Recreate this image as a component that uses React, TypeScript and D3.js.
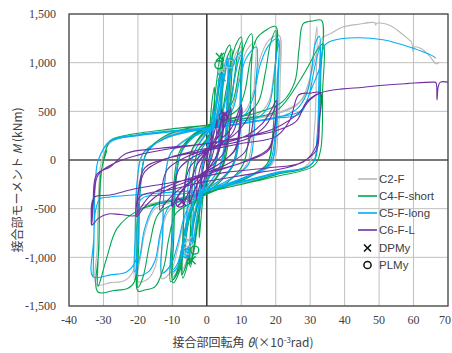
import React from 'react';
import * as d3 from 'd3';

type P = [number, number];

const xTickValues = [-40, -30, -20, -10, 0, 10, 20, 30, 40, 50, 60, 70];
const yTickValues = [-1500, -1000, -500, 0, 500, 1000, 1500];
const seriesNames = ['C2-F', 'C4-F-short', 'C5-F-long', 'C6-F-L'];
const seriesColors = ['#b8b8b8', '#00a650', '#00b0f0', '#7030a0'];
const markerNames = ['DPMy', 'PLMy'];

// C2-F (theta x10^-3 rad, moment kNm)
const c2F: P[] = [
  [0,0],[0.8,250],[1.5,450],[2,550],
  [1.8,250],[1,0],[0,-120],[-1,-300],[-1.7,-480],[-2.1,-560],
  [-1.9,-250],[-1,20],[0,120],[1,260],[2,450],[3,700],[3.8,880],[4.3,950],
  [4.1,500],[3.4,100],[2,-80],[0,-200],[-1.5,-350],[-3,-600],[-4,-850],[-4.7,-1000],
  [-4.5,-550],[-3.8,-100],[-2.5,100],[0,210],[1.5,300],[3,500],[4.3,800],[5.3,1000],[6.5,1100],
  [6.3,650],[5.6,180],[4.3,-60],[2,-210],[0,-290],[-2,-380],[-3.5,-580],[-5,-880],[-6,-1070],[-7,-1150],
  [-6.8,-650],[-6.2,-180],[-4.5,80],[-2,210],[0,290],[2,350],[3.8,520],[5,800],[6.2,1020],[7,1080],
  [6.8,650],[6.1,180],[4.6,-60],[2,-210],[0,-290],[-2,-370],[-3.8,-580],[-5,-860],[-6.2,-1060],[-7.2,-1130],
  [-6.8,-650],[-6.2,-180],[-4.5,80],[-2,220],[0,300],[2,360],[4,440],[5.5,650],[7,920],[8.5,1100],[10,1160],
  [9.8,750],[9.2,220],[7.5,-50],[4,-210],[0,-320],[-3,-400],[-5,-580],[-6.5,-860],[-8,-1100],[-10,-1200],
  [-9.8,-750],[-9.2,-220],[-7.5,70],[-4,230],[0,320],[4,390],[6.5,540],[8,830],[9.2,1050],[10.2,1140],
  [10,750],[9.4,220],[7.7,-50],[4,-210],[0,-320],[-3,-400],[-5.5,-600],[-7,-880],[-8.6,-1100],[-10.2,-1180],
  [-9.8,-750],[-9.2,-220],[-7.5,70],[-4,240],[0,330],[4,400],[7.5,560],[9.5,880],[11.5,1120],[14,1212],
  [13.8,800],[13.2,240],[11.5,-50],[6,-220],[0,-340],[-4,-430],[-6.5,-620],[-8.5,-920],[-10.5,-1150],[-13,-1220],
  [-12.8,-800],[-12.2,-230],[-10.5,70],[-5,240],[0,330],[6,410],[11,500],[13.5,700],[15.5,1050],[18,1230],[21,1280],
  [20.8,850],[20.2,280],[18.5,-40],[12,-180],[5,-280],[0,-340],[-6,-430],[-11,-520],[-13.5,-800],[-15,-1100],[-17,-1220],[-20,-1250],
  [-19.8,-850],[-19.3,-280],[-17.5,70],[-12,240],[-5,320],[0,350],[8,410],[15,470],[18,600],[19.5,900],[20.5,1150],[21.5,1240],
  [21.3,850],[20.7,280],[19,-40],[10,-200],[0,-330],[-8,-420],[-15,-500],[-18,-750],[-19.5,-1050],[-21,-1230],
  [-20.8,-850],[-20.3,-280],[-18.5,70],[-12,230],[-5,310],[0,340],[10,400],[20,470],[26,560],[29,700],[30.5,950],[31.5,1250],[32,1370],
  [31.8,900],[31.2,300],[29.5,-40],[20,-150],[10,-240],[0,-320],[-8,-390],[-15,-440],[-20,-500],[-20.5,-850],[-21.5,-1150],[-24,-1240],[-28,-1260],[-32,-1280],
  [-31.8,-900],[-31.3,-250],[-30.5,0],[-28,180],[-23,240],[-10,300],[0,340],[10,400],[20,480],[27,600],[30,850],[32,1120],[33.6,1256],
  [36,1300],[39.5,1366],[44,1395],[48.8,1410],[49,1385],[49.3,1405],[53,1385],[56,1315],[58.9,1228],[59.4,1215],[59.9,1110],[60.3,1160],[62.3,1143],[64.5,1075],[66.6,988],[67.4,1000],
];

// C4-F-short
const c4FShort: P[] = [
  [0,0],[0.8,300],[1.5,600],[2.2,750],
  [2,350],[1.2,50],[0,-120],[-1,-350],[-1.8,-650],[-2.2,-800],
  [-2,-400],[-1.2,-50],[0,120],[1,300],[2,550],[3,850],[3.8,1050],[4.3,1100],
  [4.1,600],[3.4,150],[2,-80],[0,-220],[-1.5,-400],[-2.8,-700],[-3.8,-950],[-4.8,-1100],
  [-4.6,-600],[-4,-150],[-2.5,100],[0,200],[1.5,320],[2.8,600],[3.8,900],[4.6,1060],
  [4.4,600],[3.7,150],[2.2,-80],[0,-230],[-1.5,-400],[-3,-700],[-4.2,-980],[-5,-1080],
  [-4.6,-600],[-4,-150],[-2.5,100],[0,220],[1.5,330],[3,600],[4.2,900],[5.3,1100],[6.7,1180],
  [6.5,700],[5.8,200],[4.5,-60],[2,-220],[0,-300],[-2,-400],[-3.5,-600],[-4.8,-900],[-5.8,-1100],[-7,-1215],
  [-6.8,-700],[-6.2,-200],[-4.5,90],[-2,230],[0,300],[2,360],[3.8,550],[5,850],[6.2,1080],[7.2,1140],
  [7,700],[6.3,200],[4.8,-60],[2,-230],[0,-300],[-2,-390],[-3.8,-600],[-5,-900],[-6.2,-1100],[-7.3,-1180],
  [-6.8,-700],[-6.2,-200],[-4.5,90],[-2,240],[0,320],[2,380],[4,450],[5.5,700],[7,1000],[8.5,1190],[10,1263],
  [9.8,800],[9.2,250],[7.5,-50],[4,-220],[0,-330],[-3,-420],[-5,-600],[-6.5,-900],[-8,-1150],[-9.8,-1263],
  [-9.6,-800],[-9,-250],[-7.5,80],[-4,240],[0,330],[4,410],[6.5,550],[8,850],[9,1100],[10.2,1220],
  [10,800],[9.4,250],[7.7,-50],[4,-220],[0,-330],[-3,-420],[-5.5,-620],[-7,-930],[-8.5,-1160],[-10,-1230],
  [-9.6,-800],[-9,-250],[-7.5,80],[-4,250],[0,340],[4,420],[7.5,600],[9.5,950],[11,1180],[13,1297],
  [12.8,850],[12.2,250],[10.5,-50],[6,-230],[0,-350],[-4,-450],[-6,-650],[-7.5,-950],[-9,-1180],[-10.5,-1250],
  [-10.2,-800],[-9.6,-250],[-8,80],[-4,260],[0,350],[5,430],[9,520],[11,700],[12.5,1000],[14.5,1250],[17,1330],[20,1370],
  [19.8,900],[19.2,300],[17.5,-40],[12,-180],[5,-280],[0,-350],[-5,-450],[-9,-550],[-11,-800],[-12.5,-1100],[-15,-1300],[-18,-1335],[-20,-1346],
  [-19.8,-900],[-19.3,-300],[-17.5,80],[-12,250],[-5,330],[0,360],[6,420],[12,480],[15,600],[17,900],[18.5,1200],[20,1330],
  [19.8,900],[19.2,300],[17.5,-40],[10,-200],[0,-340],[-8,-430],[-14,-550],[-16.5,-850],[-18.5,-1200],[-20,-1310],
  [-19.8,-900],[-19.3,-300],[-17.5,80],[-12,250],[-5,330],[0,360],[8,430],[16,500],[22,600],[25.5,800],[26.8,1150],[28,1400],[31,1430],[33.3,1434],
  [33.1,900],[32.5,300],[30.5,-40],[20,-150],[10,-250],[0,-330],[-8,-400],[-15,-450],[-19.5,-520],[-20.3,-900],[-21,-1250],[-23,-1320],[-27,-1340],[-31.6,-1356],
  [-31.3,-900],[-30.8,-200],[-30,0],[-28,200],[-23,257],[-10,320],[0,360],[10,420],[20,500],[27,817],[30,1000],[32,1130],[33.8,1194],
  [33.6,700],[33,100],[31,-60],[20,-170],[0,-330],[-10,-420],[-20,-520],[-26,-700],[-29,-1000],[-31,-1250],[-31.6,-1300],
  [-31.3,-800],[-30.8,-150],[-29,100],
];

// C5-F-long
const c5FLong: P[] = [
  [0,0],[0.7,200],[1.4,400],[2,500],
  [1.8,220],[1,0],[0,-130],[-1,-280],[-1.6,-420],[-2,-500],
  [-1.8,-220],[-1,10],[0,130],[1,260],[2,430],[3,680],[3.6,820],[4,900],
  [3.8,450],[3.1,90],[1.8,-80],[0,-200],[-1.5,-330],[-2.8,-580],[-3.5,-750],[-4,-850],
  [-3.8,-420],[-3.1,-80],[-1.8,90],[0,190],[1.5,290],[2.8,560],[3.6,800],[4.2,880],
  [4,450],[3.3,90],[2,-80],[0,-210],[-1.5,-340],[-2.8,-600],[-3.6,-780],[-4.2,-860],
  [-3.8,-420],[-3.1,-80],[-1.8,90],[0,200],[1.5,290],[3,480],[4.2,780],[5.1,960],[6,1050],
  [5.8,600],[5.1,160],[3.8,-60],[1.5,-200],[0,-270],[-2,-360],[-3.5,-560],[-4.6,-820],[-5.3,-950],[-6,-1000],
  [-5.8,-600],[-5.2,-170],[-3.8,70],[-1.5,200],[0,270],[2,330],[3.6,520],[4.8,820],[5.8,980],[6.3,1030],
  [6.1,600],[5.4,160],[4,-60],[1.5,-200],[0,-270],[-2,-350],[-3.6,-560],[-4.8,-830],[-5.6,-960],[-6.3,-1010],
  [-5.8,-600],[-5.2,-170],[-3.8,70],[-1.5,210],[0,280],[2,340],[4,420],[5.5,620],[7,880],[8.5,1050],[10,1109],
  [9.8,700],[9.2,200],[7.5,-50],[4,-200],[0,-300],[-3,-380],[-5,-560],[-6.5,-830],[-8,-1070],[-10,-1150],
  [-9.8,-700],[-9.2,-200],[-7.5,70],[-4,230],[0,300],[4,370],[6.5,520],[8,820],[9.2,1020],[10.2,1090],
  [10,700],[9.4,200],[7.7,-50],[4,-200],[0,-300],[-3,-380],[-5.5,-580],[-7,-860],[-8.6,-1070],[-10.2,-1130],
  [-9.8,-700],[-9.2,-200],[-7.5,70],[-4,230],[0,310],[4,380],[7.5,520],[9.5,820],[11.5,1050],[14.4,1160],
  [14.2,750],[13.6,220],[12,-50],[6,-210],[0,-320],[-4,-400],[-6.5,-580],[-8.5,-870],[-10.5,-1080],[-13,-1160],
  [-12.8,-750],[-12.2,-220],[-10.5,70],[-5,230],[0,310],[6,380],[11,460],[13.5,650],[15.5,980],[18,1180],[20.6,1246],
  [20.4,800],[19.8,250],[18,-40],[12,-170],[5,-260],[0,-320],[-6,-400],[-11,-480],[-13.5,-750],[-15,-1030],[-17,-1150],[-20,-1184],
  [-19.8,-800],[-19.3,-250],[-17.5,70],[-12,230],[-5,300],[0,330],[8,390],[15,440],[18,560],[19.5,850],[20.3,1100],[20.9,1200],
  [20.7,800],[20.1,250],[18.5,-40],[10,-190],[0,-310],[-8,-400],[-15,-470],[-18,-700],[-19.5,-1000],[-21,-1150],
  [-20.8,-800],[-20.3,-250],[-18.5,70],[-12,220],[-5,290],[0,320],[10,380],[20,430],[26,520],[29,680],[30.5,950],[31.5,1200],[32.7,1270],
  [32.5,800],[32,250],[30.5,-40],[20,-130],[10,-220],[0,-300],[-10,-330],[-21.5,-360],[-28,-380],[-31,-400],[-32.3,-520],[-32.8,-900],[-33,-1201],
  [-32.8,-800],[-32.3,-200],[-31.5,0],[-28,200],[-20,260],[-10,300],[0,330],[10,380],[20,440],[27,500],[29.5,650],[31,900],[32.3,1100],[33,1170],
  [32.8,750],[32.2,200],[30.5,-40],[20,-140],[10,-230],[0,-310],[-10,-360],[-19,-400],[-20.2,-700],[-20.6,-1030],[-23.3,-1150],[-28,-1180],[-33,-1200],
  [-32.8,-800],[-32.3,-200],[-31.5,0],[-28,190],[-20,250],[-10,290],[0,320],[10,370],[20,430],[27,474],[30,700],[32.8,954],[34.2,1177],
  [36.6,1228],[43.4,1256],[51.1,1235],[58.8,1160],[66.1,1057],[66.4,1047],
];

// C6-F-L
const c6FL: P[] = [
  [0,0],[0.8,150],[1.5,300],
  [1.2,120],[0,-80],[-0.8,-200],[-1.5,-300],
  [-1.2,-120],[0,60],[1.5,200],[2.5,330],[3,420],
  [2.6,200],[1.5,30],[0,-100],[-1.5,-200],[-2.5,-320],[-3,-400],
  [-2.6,-200],[-1.5,-30],[0,80],[1.5,160],[3,270],[4,380],[4.7,480],
  [4.3,250],[3,60],[1,-60],[-1,-150],[-3,-260],[-4.3,-380],[-5,-450],
  [-4.6,-250],[-3,-60],[-1,40],[1,120],[3,230],[4.2,380],[5,470],
  [4.6,250],[3.2,60],[1,-60],[-1,-150],[-3,-270],[-4.4,-390],[-5.2,-440],
  [-4.6,-250],[-3,-60],[-1,50],[1,130],[3,220],[5,330],[6.2,450],[7,530],
  [6.6,300],[5,80],[2,-40],[-1,-130],[-3.5,-230],[-5.5,-350],[-6.8,-463],
  [-6.4,-260],[-5,-80],[-2,40],[1,120],[4,210],[7,320],[8.8,460],[10,570],
  [9.5,330],[8,100],[4,-30],[0,-110],[-4,-200],[-7,-300],[-9,-400],[-10,-480],
  [-9.5,-280],[-8,-90],[-4,30],[0,90],[4,160],[7.5,280],[9,420],[10.2,540],
  [9.7,320],[8.2,100],[4,-30],[0,-120],[-4,-210],[-7,-310],[-9,-410],[-10.2,-470],
  [-9.5,-280],[-8,-90],[-4,30],[0,100],[4,170],[8,260],[11,380],[12.5,480],[13.5,530],
  [13,300],[11,80],[6,-40],[0,-130],[-5,-230],[-9,-330],[-12,-440],[-13.6,-515],
  [-13.1,-300],[-11.5,-100],[-6,30],[0,110],[6,180],[12,260],[16,370],[18.5,500],[20.2,610],
  [19.7,350],[18,120],[12,0],[4,-100],[-4,-200],[-10,-280],[-15,-380],[-18.5,-500],[-20.4,-583],
  [-19.9,-350],[-18,-120],[-12,10],[-4,90],[4,150],[12,220],[17,350],[19,470],[20.2,560],
  [19.7,320],[18,100],[10,-30],[0,-130],[-10,-250],[-16,-350],[-19,-480],[-20.4,-560],
  [-19.9,-320],[-18,-80],[-10,30],[0,100],[10,170],[20,240],[24,400],[26.7,670],[30,687],[33,690],
  [32.6,400],[31.8,150],[28,-20],[18,-80],[5,-130],[-5,-200],[-15,-260],[-21.4,-300],[-28,-360],[-32.5,-378],[-33.4,-450],[-33.4,-669],
  [-32.8,-400],[-31.5,-150],[-26,-20],[-20,50],[-10,120],[0,170],[10,230],[20,300],[26,400],[29,600],[33,680],
  [32.6,400],[31.8,100],[26,-50],[15,-130],[0,-220],[-10,-300],[-19.5,-380],[-20.4,-566],[-25,-560],[-28.6,-555],[-31.5,-600],[-33.4,-669],
  [-33,-420],[-32,-150],[-28,-69],[-23.3,69],[-13.6,120],[0,170],[10,230],[20,330],[27,491],[30,620],[33,690],
  [39.4,731],[45,745],[50,765],[58,785],[65.8,800],[66.5,795],[66.8,618],[67.2,760],[67.8,800],[70,800],
];

const seriesData: P[][] = [c2F, c4FShort, c5FLong, c6FL];

// markers: [series index, theta, moment]
const dpmyPoints: [number, number, number][] = [
  [0, 4.3, 919], [0, -5.4, -824],
  [1, 3.8, 1057], [1, -4.4, -1030],
  [2, 4.3, 850], [2, -6.3, -930],
  [3, 5.2, 470], [3, -7.2, -430],
];
const plmyPoints: [number, number, number][] = [
  [0, 6.5, 988], [0, -5.4, -926],
  [1, 3.5, 978], [1, -3.5, -926],
  [2, 6.8, 1000], [2, -6.1, -961],
  [3, 4.7, 446], [3, -7.8, -443],
];

const W = 452;
const H = 353;
const PL = 69, PR = 448, PT = 14, PB = 306;

function Cross({ cx, cy, s, color, w }: { cx: number; cy: number; s: number; color: string; w: number }) {
  return (
    <path
      d={`M${cx - s},${cy - s}L${cx + s},${cy + s}M${cx - s},${cy + s}L${cx + s},${cy - s}`}
      stroke={color}
      strokeWidth={w}
      fill="none"
    />
  );
}

export default function App() {
  const x = d3.scaleLinear().domain([-40, 70]).range([PL, PR]);
  const y = d3.scaleLinear().domain([-1500, 1500]).range([PB, PT]);
  const line = d3
    .line<P>()
    .x((d) => x(d[0]))
    .y((d) => y(d[1]))
    .curve(d3.curveCatmullRom.alpha(0.5));

  const fmt = d3.format(',');
  const legendRows = [179, 196, 213, 230, 248, 265];
  const legendX1 = 358, legendX2 = 377, legendTX = 379;

  return (
    <svg
      width={W}
      height={H}
      style={{ position: 'absolute', left: 0, top: 0, background: '#fff' }}
    >
      <rect x={0} y={0} width={W} height={H} fill="#fff" />
      {/* grid */}
      {xTickValues.map((t) => (
        <line key={'gx' + t} x1={x(t)} x2={x(t)} y1={PT} y2={PB} stroke="#c0c0c0" strokeWidth={1} />
      ))}
      {yTickValues.map((t) => (
        <line key={'gy' + t} x1={PL} x2={PR} y1={y(t)} y2={y(t)} stroke="#c0c0c0" strokeWidth={1} />
      ))}
      {/* zero axes */}
      <line x1={x(0)} x2={x(0)} y1={PT} y2={PB} stroke="#111" strokeWidth={1.2} />
      <line x1={PL} x2={PR} y1={y(0)} y2={y(0)} stroke="#111" strokeWidth={1.2} />
      {/* border */}
      <rect x={PL} y={PT} width={PR - PL} height={PB - PT} fill="none" stroke="#404040" strokeWidth={1.2} />

      {/* series */}
      {seriesData.map((data, i) => (
        <path
          key={'s' + i}
          d={line(data) || ''}
          fill="none"
          stroke={seriesColors[i]}
          strokeWidth={1.1}
          strokeLinejoin="round"
        />
      ))}

      {/* markers */}
      {dpmyPoints.map(([s, t, m], i) => (
        <Cross key={'dp' + i} cx={x(t)} cy={y(m)} s={4} color={seriesColors[s]} w={1.4} />
      ))}
      {plmyPoints.map(([s, t, m], i) => (
        <circle key={'pl' + i} cx={x(t)} cy={y(m)} r={4} fill="none" stroke={seriesColors[s]} strokeWidth={1.4} />
      ))}

      {/* tick labels */}
      {yTickValues.map((t) => (
        <text
          key={'yl' + t}
          x={56}
          y={y(t)}
          dy="0.35em"
          textAnchor="end"
          fontFamily="'Liberation Serif', 'DejaVu Serif', serif"
          fontSize={12}
          fill="#404040"
        >
          {fmt(t).replace('−', '-')}
        </text>
      ))}
      {xTickValues.map((t) => (
        <text
          key={'xl' + t}
          x={Math.min(x(t), 445)}
          y={324}
          textAnchor="middle"
          fontFamily="'Liberation Serif', 'DejaVu Serif', serif"
          fontSize={12}
          fill="#404040"
        >
          {String(t)}
        </text>
      ))}

      {/* axis titles */}
      <text
        x={243}
        y={347}
        textAnchor="middle"
        fontFamily="'Noto Sans CJK JP', 'Noto Sans', sans-serif"
        fontSize={12}
        fill="#404040"
      >
        接合部回転角 <tspan fontStyle="italic">θ</tspan>
        <tspan>(×10</tspan>
        <tspan dy={-4} fontSize={8}>-3</tspan>
        <tspan dy={4}>rad)</tspan>
      </text>
      <text
        transform={`translate(18,${180}) rotate(-90)`}
        textAnchor="middle"
        dy="0.35em"
        fontFamily="'Noto Sans CJK JP', 'Noto Sans', sans-serif"
        fontSize={12}
        fill="#404040"
      >
        接合部モーメント <tspan fontStyle="italic">M</tspan> (kNm)
      </text>

      {/* legend */}
      {seriesNames.map((n, i) => (
        <g key={'lg' + i}>
          <line x1={legendX1} x2={legendX2} y1={legendRows[i]} y2={legendRows[i]} stroke={seriesColors[i]} strokeWidth={1.6} />
          <text
            x={legendTX}
            y={legendRows[i]}
            dy="0.35em"
            fontFamily="'Liberation Sans', Arial, sans-serif"
            fontSize={11.5}
            fill="#404040"
          >
            {n}
          </text>
        </g>
      ))}
      <Cross cx={367.5} cy={legendRows[4]} s={3.5} color="#111" w={1.6} />
      <circle cx={367.5} cy={legendRows[5]} r={3.6} fill="none" stroke="#111" strokeWidth={1.5} />
      {markerNames.map((n, i) => (
        <text
          key={'lm' + i}
          x={legendTX}
          y={legendRows[4 + i]}
          dy="0.35em"
          fontFamily="'Liberation Sans', Arial, sans-serif"
          fontSize={11.5}
          fill="#404040"
        >
          {n}
        </text>
      ))}
    </svg>
  );
}
